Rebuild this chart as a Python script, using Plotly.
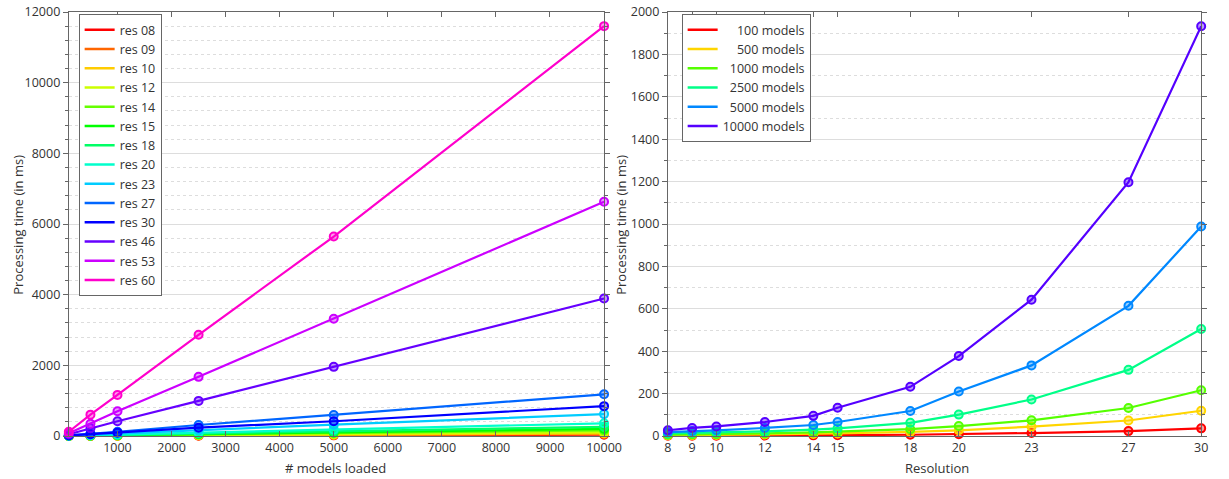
import plotly.graph_objects as go

# ---------------- data ----------------
models_loaded = [100, 500, 1000, 2500, 5000, 10000]
res_labels = ["res 08", "res 09", "res 10", "res 12", "res 14", "res 15", "res 18",
              "res 20", "res 23", "res 27", "res 30", "res 46", "res 53", "res 60"]
res_08 = [1, 3, 5, 10, 18, 35]
res_09 = [2, 4, 7, 15, 28, 55]
res_10 = [2, 5, 9, 20, 38, 75]
res_12 = [3, 7, 13, 30, 55, 110]
res_14 = [4, 10, 18, 42, 80, 160]
res_15 = [5, 12, 22, 55, 100, 200]
res_18 = [6, 16, 30, 70, 130, 260]
res_20 = [8, 22, 40, 95, 180, 360]
res_23 = [12, 38, 70, 170, 320, 620]
res_27 = [20, 65, 120, 312, 596, 1180]
res_30 = [15, 50, 95, 236, 417, 845]
res_46 = [50, 218, 417, 993, 1957, 3890]
res_53 = [75, 349, 700, 1674, 3319, 6630]
res_60 = [120, 604, 1163, 2865, 5645, 11600]
left_series = [res_08, res_09, res_10, res_12, res_14, res_15, res_18,
               res_20, res_23, res_27, res_30, res_46, res_53, res_60]

resolution = [8, 9, 10, 12, 14, 15, 18, 20, 23, 27, 30]
model_labels = ["100 models", "500 models", "1000 models", "2500 models", "5000 models", "10000 models"]
m_100 = [1, 1, 1.5, 2, 3, 4, 6, 8, 14, 23, 36]
m_500 = [3, 4, 5, 7, 10, 12, 19, 27, 44, 73, 119]
m_1000 = [6, 7, 8, 12, 17, 20, 32, 47, 74, 132, 216]
m_2500 = [12, 14, 16, 22, 30, 36, 62, 101, 172, 312, 505]
m_5000 = [18, 24, 27, 38, 52, 66, 118, 210, 333, 614, 988]
m_10000 = [27, 38, 45, 66, 95, 133, 232, 377, 643, 1197, 1933]
right_series = [m_100, m_500, m_1000, m_2500, m_5000, m_10000]

left_colors = ["#ff0000", "#ff6600", "#ffcc00", "#ccff00", "#66ff00", "#00ff00", "#00ff66",
               "#00ffcc", "#00ccff", "#0066ff", "#0000ff", "#6600ff", "#cc00ff", "#ff00cc"]
right_colors = ["#ff0000", "#ffd500", "#55ff00", "#00ff88", "#0088ff", "#5500ff"]


def rgba(h, a):
    h = h.lstrip("#")
    return "rgba(%d,%d,%d,%.2f)" % (int(h[0:2], 16), int(h[2:4], 16), int(h[4:6], 16), a)


fig = go.Figure()


def add_series(xs, ys, name, c, xa, ya, leg):
    fig.add_trace(go.Scatter(
        x=xs, y=ys, name=name, mode="lines+markers", showlegend=False,
        line=dict(color=c, width=2.2),
        marker=dict(symbol="circle", size=8, color=rgba(c, 0.4), line=dict(color=c, width=2)),
        cliponaxis=False, xaxis=xa, yaxis=ya))
    # legend entry (line only, as in the reference)
    fig.add_trace(go.Scatter(
        x=[None], y=[None], name=name, mode="lines", showlegend=True,
        line=dict(color=c, width=2.5), xaxis=xa, yaxis=ya, legend=leg))


for name, ys, c in zip(res_labels, left_series, left_colors):
    add_series(models_loaded, ys, name, c, "x", "y", "legend")

for name, ys, c in zip(model_labels, right_series, right_colors):
    pad = "\u2007" * (12 - len(name))
    add_series(resolution, ys, pad + name, c, "x2", "y2", "legend2")

W, H = 1229, 479
TOP, BOT = 12, 436
PH = BOT - TOP


def px(xp):
    return xp / W


def py(yp):
    return (BOT - yp) / PH


axis_col = "#666666"
grid_col = "#dddddd"
font = dict(family="Open Sans, Noto Sans, sans-serif", size=12, color="#333333")

common_y = dict(showline=True, linecolor=axis_col, linewidth=1, mirror="ticks",
                ticks="outside", ticklen=5, tickcolor=axis_col, tickformat="d",
                showgrid=True, gridcolor=grid_col, gridwidth=1, zeroline=False,
                tickfont=dict(size=12.5))
common_x = dict(showline=True, linecolor=axis_col, linewidth=1, mirror="ticks",
                ticks="inside", ticklen=5, tickcolor=axis_col, showgrid=False, zeroline=False,
                tickformat="d", tickfont=dict(size=12.5))

fig.update_layout(
    width=W, height=H,
    margin=dict(l=0, r=0, t=TOP, b=H - BOT),
    paper_bgcolor="white", plot_bgcolor="white",
    font=font,
    showlegend=True,
    xaxis=dict(common_x, domain=[px(66), px(611)], range=[100, 10000],
               tick0=0, dtick=1000, anchor="y"),
    yaxis=dict(common_y, domain=[0, 1], range=[0, 12000], dtick=2000, anchor="x",
               minor=dict(dtick=400, showgrid=True, gridcolor=grid_col, griddash="dot",
                          ticks="outside", ticklen=3, tickcolor=axis_col)),
    xaxis2=dict(common_x, domain=[px(676), px(1219)], range=[8, 30],
                tickmode="array", tickvals=resolution, anchor="y2"),
    yaxis2=dict(common_y, domain=[0, 1], range=[0, 2000], dtick=200, anchor="x2",
                minor=dict(dtick=100, showgrid=True, gridcolor=grid_col, griddash="dot",
                           ticks="outside", ticklen=3, tickcolor=axis_col)),
    legend=dict(x=px(76), y=py(14),
                xanchor="left", yanchor="top", bgcolor="white",
                bordercolor=axis_col, borderwidth=1, font=dict(size=12.5),
                tracegroupgap=0, itemwidth=30),
    legend2=dict(x=px(690), y=py(14), xanchor="left", yanchor="top", bgcolor="white",
                 bordercolor=axis_col, borderwidth=1, font=dict(size=12.5),
                 tracegroupgap=0, itemwidth=30),
    annotations=[
        dict(text="Processing time (in ms)", xref="paper", yref="paper",
             x=px(14), y=py(225), textangle=-90, showarrow=False, font=dict(size=13),
             xanchor="center", yanchor="middle"),
        dict(text="Processing time (in ms)", xref="paper", yref="paper",
             x=px(628), y=py(225), textangle=-90, showarrow=False, font=dict(size=13),
             xanchor="center", yanchor="middle"),
        dict(text="# models loaded", xref="paper", yref="paper",
             x=px(338), y=py(468), showarrow=False, font=dict(size=13),
             xanchor="center", yanchor="middle"),
        dict(text="Resolution", xref="paper", yref="paper",
             x=px(950), y=py(468), showarrow=False, font=dict(size=13),
             xanchor="center", yanchor="middle"),
    ],
)

# remove the browser's default 8px page margin so the figure fills the window exactly
fig.write_html("out.html", config={"displayModeBar": False},
               post_script="document.body.style.margin='0';")
